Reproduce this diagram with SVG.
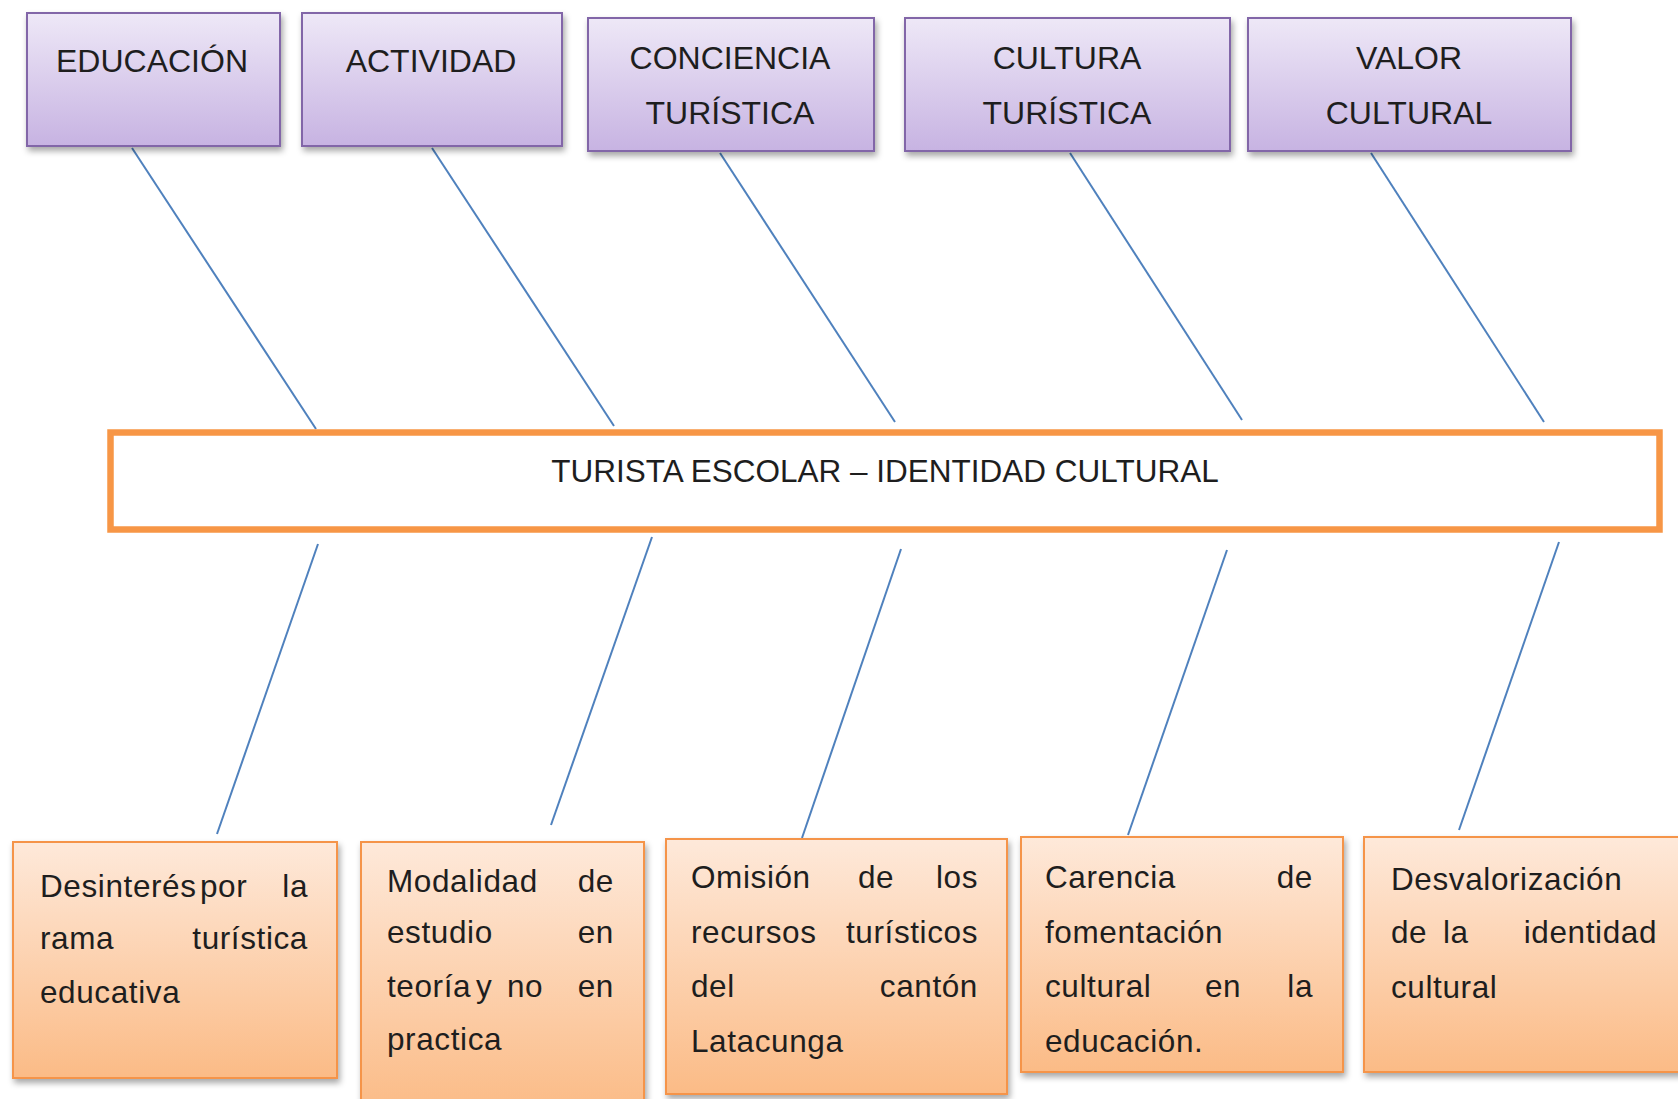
<svg xmlns="http://www.w3.org/2000/svg" width="1678" height="1099" viewBox="0 0 1678 1099">
<defs>
<linearGradient id="gPurple" x1="0" y1="0" x2="0" y2="1">
<stop offset="0" stop-color="#EEE8F7"/>
<stop offset="1" stop-color="#C7B3E2"/>
</linearGradient>
<linearGradient id="gOrange" x1="0" y1="0" x2="0" y2="1">
<stop offset="0" stop-color="#FEE9DA"/>
<stop offset="1" stop-color="#FBBB86"/>
</linearGradient>
<filter id="shadow" x="-10%" y="-10%" width="130%" height="130%">
<feDropShadow dx="2" dy="4" stdDeviation="3" flood-color="#000" flood-opacity="0.35"/>
</filter>
</defs>
<style>
.top{fill:url(#gPurple);stroke:#8266A8;stroke-width:2;filter:url(#shadow)}
.bot{fill:url(#gOrange);stroke:#F5944A;stroke-width:2;filter:url(#shadow)}
.main{fill:#FFFFFF;stroke:#F79646;stroke-width:6.5}
.tt{font-family:"Liberation Sans",Arial,sans-serif;font-size:32px;fill:#1E1E1E;text-anchor:middle}
.ct{font-family:"Liberation Sans",Arial,sans-serif;font-size:31.5px;fill:#1E1E1E;text-anchor:middle}
.bt{font-family:"Liberation Sans",Arial,sans-serif;font-size:31.5px;fill:#1E1E1E;letter-spacing:0.6px}
.e{text-anchor:end}
.conn line{stroke:#4F81BD;stroke-width:2;fill:none}
</style>
<rect width="1678" height="1099" fill="#FFFFFF"/>

<g class="conn" id="connectors">
<line x1="132" y1="148" x2="316" y2="429"/>
<line x1="432" y1="148" x2="614" y2="426"/>
<line x1="720" y1="153" x2="895" y2="422"/>
<line x1="1070" y1="153" x2="1242" y2="420"/>
<line x1="1371" y1="153" x2="1544" y2="422"/>
<line x1="318" y1="544" x2="217" y2="834"/>
<line x1="652" y1="537" x2="551" y2="825"/>
<line x1="901" y1="549" x2="802" y2="838"/>
<line x1="1227" y1="550" x2="1128" y2="835"/>
<line x1="1559" y1="542" x2="1459" y2="830"/>
</g>

<g id="n-educacion">
<rect class="top" x="27" y="13" width="253" height="133"/>
<text class="tt" x="152" y="72">EDUCACIÓN</text>
</g>
<g id="n-actividad">
<rect class="top" x="302" y="13" width="260" height="133"/>
<text class="tt" x="431" y="72">ACTIVIDAD</text>
</g>
<g id="n-conciencia">
<rect class="top" x="588" y="18" width="286" height="133"/>
<text class="tt" x="730" y="69">CONCIENCIA</text>
<text class="tt" x="730" y="124">TURÍSTICA</text>
</g>
<g id="n-cultura">
<rect class="top" x="905" y="18" width="325" height="133"/>
<text class="tt" x="1067" y="69">CULTURA</text>
<text class="tt" x="1067" y="124">TURÍSTICA</text>
</g>
<g id="n-valor">
<rect class="top" x="1248" y="18" width="323" height="133"/>
<text class="tt" x="1409" y="69">VALOR</text>
<text class="tt" x="1409" y="124">CULTURAL</text>
</g>

<g id="n-central">
<rect class="main" x="110.5" y="432.5" width="1549" height="97"/>
<text class="ct" x="885" y="482">TURISTA ESCOLAR – IDENTIDAD CULTURAL</text>
</g>

<g id="n-desinteres">
<rect class="bot" x="13" y="842" width="324" height="236"/>
<text class="bt" x="40" y="897">Desinterés</text>
<text class="bt" x="200" y="897">por</text>
<text class="bt e" x="308" y="897">la</text>
<text class="bt" x="40" y="949">rama</text>
<text class="bt e" x="308" y="949">turística</text>
<text class="bt" x="40" y="1003">educativa</text>
</g>
<g id="n-modalidad">
<rect class="bot" x="361" y="842" width="283" height="270"/>
<text class="bt" x="387" y="892">Modalidad</text>
<text class="bt e" x="614" y="892">de</text>
<text class="bt" x="387" y="943">estudio</text>
<text class="bt e" x="614" y="943">en</text>
<text class="bt" x="387" y="997">teoría</text>
<text class="bt" x="476" y="997">y</text>
<text class="bt" x="507" y="997">no</text>
<text class="bt e" x="614" y="997">en</text>
<text class="bt" x="387" y="1050">practica</text>
</g>
<g id="n-omision">
<rect class="bot" x="666" y="839" width="341" height="255"/>
<text class="bt" x="691" y="888">Omisión</text>
<text class="bt" x="858" y="888">de</text>
<text class="bt e" x="978" y="888">los</text>
<text class="bt" x="691" y="943">recursos</text>
<text class="bt e" x="978" y="943">turísticos</text>
<text class="bt" x="691" y="997">del</text>
<text class="bt e" x="978" y="997">cantón</text>
<text class="bt" x="691" y="1052">Latacunga</text>
</g>
<g id="n-carencia">
<rect class="bot" x="1021" y="837" width="322" height="235"/>
<text class="bt" x="1045" y="888">Carencia</text>
<text class="bt e" x="1313" y="888">de</text>
<text class="bt" x="1045" y="943">fomentación</text>
<text class="bt" x="1045" y="997">cultural</text>
<text class="bt" x="1205" y="997">en</text>
<text class="bt e" x="1313" y="997">la</text>
<text class="bt" x="1045" y="1052">educación.</text>
</g>
<g id="n-desvalorizacion">
<rect class="bot" x="1364" y="837" width="330" height="235"/>
<text class="bt" x="1391" y="890">Desvalorización</text>
<text class="bt" x="1391" y="943">de</text>
<text class="bt" x="1443" y="943">la</text>
<text class="bt e" x="1657" y="943">identidad</text>
<text class="bt" x="1391" y="998">cultural</text>
</g>
</svg>
